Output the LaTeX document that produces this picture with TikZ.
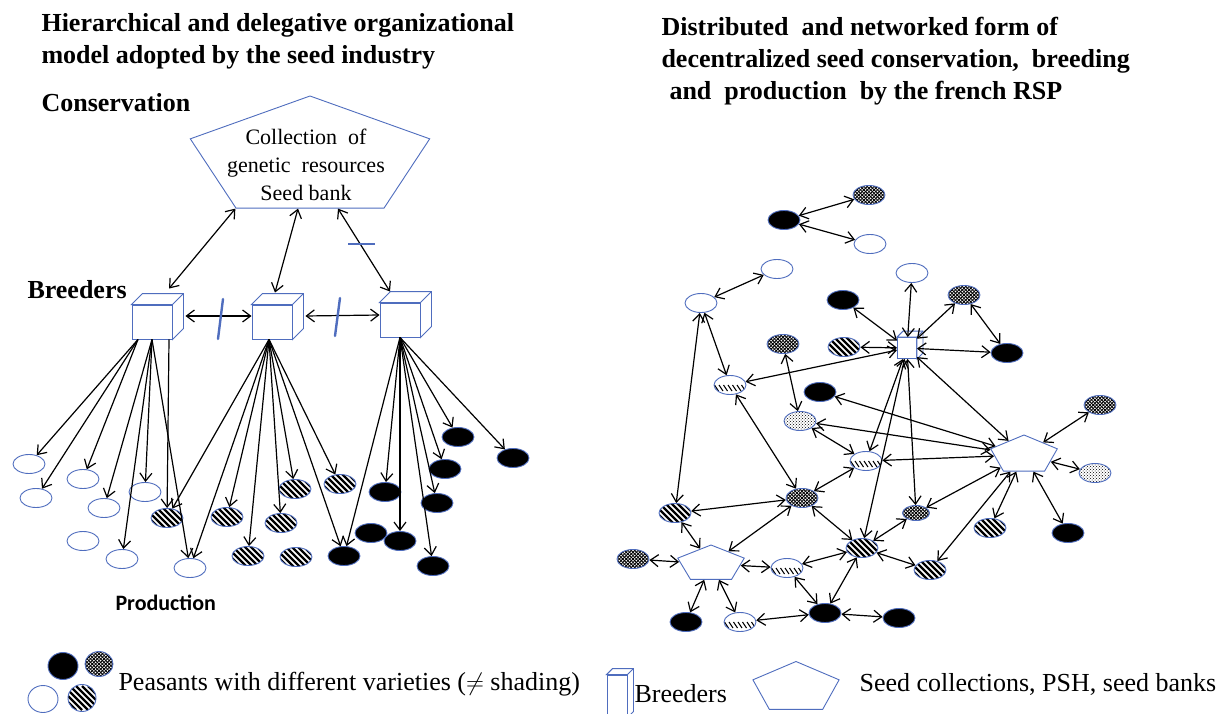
\documentclass[tikz,border=0pt]{standalone}
\usepackage{fontspec}
\setmainfont{Liberation Serif}
\newfontfamily\calfont{Carlito}
\usetikzlibrary{shapes.geometric,arrows.meta,patterns}
\definecolor{seedblue}{RGB}{79,109,190}

\newcommand\cubedepth[2]{%
  \draw[seedblue,line width=0.9pt,fill=white] (#1.north west) -- ++(#2,-#2) -- ([shift={(#2,-#2)}]#1.north east) -- ([shift={(#2,-#2)}]#1.south east) -- (#1.south east) -- (#1.north east) -- cycle;
  \draw[seedblue,line width=0.9pt] (#1.north east) -- ++(#2,-#2);}

\begin{document}
\begin{tikzpicture}[x=1pt,y=-1pt,>={Straight Barb[length=8pt,width=12pt]},
  peasant/.style={ellipse,draw=seedblue,line width=0.9pt,inner sep=0pt,minimum width=32pt,minimum height=19pt},
  emptyp/.style={peasant,fill=white},
  blackp/.style={peasant,fill=black},
  stripedp/.style={peasant,fill=white,path picture={\foreach \k in {-6,...,6} \draw[black,line width=2.3pt] ([shift={(\k*6,0)}]path picture bounding box.center) +(-12,-12) -- +(12,12);}},
  hatchp/.style={peasant,fill=white,path picture={\foreach \k in {-3,...,3} \draw[black,line width=1pt] ([shift={(\k*4.5,3)}]path picture bounding box.center) +(-2,-3) -- +(2,3);}},
  checkp/.style={peasant,fill=white,path picture={\foreach \k in {-10,...,10} \draw[black,line width=0.8pt] ([shift={(\k*3.4,0)}]path picture bounding box.center) +(-12,-12) -- +(12,12) +(12,-12) -- +(-12,12);}},
  dottedp/.style={peasant,preaction={fill=white},pattern=crosshatch dots},
  breeder/.style={draw=seedblue,fill=white,line width=0.9pt,inner sep=0pt,minimum width=40pt,minimum height=34pt},
  bankshape/.style={regular polygon,regular polygon sides=5,draw=seedblue,line width=0.9pt,fill=white,inner sep=0pt},
  link/.style={<->,line width=1.2pt},
  feed/.style={->,line width=1.2pt},
  bold title/.style={anchor=west,align=left,font=\bfseries\fontsize{26}{32}\selectfont},
  keytext/.style={anchor=west,font=\fontsize{26}{30}\selectfont}]

\useasboundingbox (0,0) rectangle (1220,714);

\node[bold title] (lefttitle) at (38,41) {Hierarchical and delegative organizational\\model adopted by the seed industry};
\node[bold title] (conservation) at (38,103) {Conservation};
\node[bold title] (breeders) at (24,290) {Breeders};
\node[anchor=west,font=\calfont\bfseries\fontsize{22}{26}\selectfont] (production) at (112,603) {Production};

\begin{scope}[shift={(310,158)},xscale=2.03]
  \node[bankshape,minimum size=124pt,transform shape] (bank) at (0,0) {};
\end{scope}
\node[align=center,font=\fontsize{22}{28}\selectfont] (banktext) at (306,165) {Collection\ \ of\\genetic\ \ resources\\Seed bank};

\node[breeder] (c1) at (152,322) {};
\node[breeder] (c2) at (272,322) {};
\node[breeder] (c3) at (400,320) {};
\cubedepth{c1}{11}
\cubedepth{c2}{11}
\cubedepth{c3}{11}

\draw[link] (bank.corner 3) -- ([shift={(17,-16)}]c1.north);
\draw[link] ([xshift=-12]bank.side 3) -- ([shift={(3,-12)}]c2.north);
\draw[link] ([xshift=28]bank.side 3) -- ([shift={(-10,-11)}]c3.north);
\draw[seedblue,line width=2.2pt] (348,244) -- (375,244);

\draw[link] ([shift={(13,-6)}]c1.east) -- ([yshift=6]c2.west);
\draw[link] ([shift={(13,-6)}]c2.east) -- ([yshift=5]c3.west);
\draw[seedblue,line width=2.4pt,line cap=round] (223,299) -- (218,339);
\draw[seedblue,line width=2.4pt,line cap=round] (340,298) -- (335,336);

\node[emptyp] (e1) at (29,464) {};
\node[emptyp] (e2) at (36,498) {};
\node[emptyp] (e3) at (83,479) {};
\node[emptyp] (e4) at (104,508) {};
\node[emptyp] (e5) at (145,492) {};
\node[emptyp] (e6) at (83,541) {};
\node[emptyp] (e7) at (122,559) {};
\node[emptyp] (e8) at (190,568) {};

\node[stripedp] (s1) at (167,518) {};
\node[stripedp] (s2) at (227,517) {};
\node[stripedp] (s3) at (281,523) {};
\node[stripedp] (s4) at (295,489) {};
\node[stripedp] (s5) at (340,484) {};
\node[stripedp] (s6) at (248,556) {};
\node[stripedp] (s7) at (296,557) {};

\node[blackp] (b1) at (458,437) {};
\node[blackp] (b2) at (513,458) {};
\node[blackp] (b3) at (445,469) {};
\node[blackp] (b4) at (385,492) {};
\node[blackp] (b5) at (437,503) {};
\node[blackp] (b6) at (371,533) {};
\node[blackp] (b7) at (400,541) {};
\node[blackp] (b8) at (344,556) {};
\node[blackp] (b9) at (433,566) {};

\foreach \t in {e1,e2,e3} \draw[feed] ([xshift=-14]c1.south) -- (\t);
\foreach \t in {e4,e5,e7,e8} \draw[feed] (c1.south) -- (\t);
\draw[feed] ([xshift=17]c1.south) -- (s1);
\foreach \t in {s1,e8,s2,s6,s3,s4,s5,b8} \draw[feed] ([xshift=-3]c2.south) -- (\t);
\foreach \t in {b8,b4,b7,b9,b5,b3,b1,b2} \draw[feed] (c3.south) -- (\t);

\node[bold title] (righttitle) at (658,61) {Distributed\ \ and networked form of\\decentralized seed conservation,\ \ breeding\\\hspace*{8pt}and\ \ production\ \ by the french RSP};

\node[breeder,minimum width=19pt,minimum height=21pt] (rb) at (907,348) {};
\cubedepth{rb}{6}
\begin{scope}[shift={(1024,455)},xscale=1.75]
  \node[bankshape,minimum size=40pt,transform shape] (p1) at (0,0) {};
\end{scope}
\begin{scope}[shift={(711,564)},xscale=1.84]
  \node[bankshape,minimum size=38pt,transform shape] (p2) at (0,0) {};
\end{scope}

\node[blackp] (r1) at (784,220) {};
\node[checkp] (r2) at (869,195) {};
\node[emptyp] (r3) at (870,244) {};
\node[emptyp] (r4) at (777,269) {};
\node[emptyp] (r5) at (701,303) {};
\node[emptyp] (r6) at (912,273) {};
\node[blackp] (r7) at (843,300) {};
\node[checkp] (r8) at (964,295) {};
\node[stripedp] (r9) at (844,347) {};
\node[checkp] (r10) at (783,344) {};
\node[blackp] (r11) at (1007,353) {};
\node[hatchp] (r12) at (730,385) {};
\node[blackp] (r13) at (820,392) {};
\node[checkp] (r14) at (1100,405) {};
\node[dottedp] (r15) at (800,421) {};
\node[hatchp] (r16) at (866,461) {};
\node[dottedp] (r17) at (1095,473) {};
\node[checkp] (r18) at (802,498) {};
\node[checkp,minimum width=27pt,minimum height=15pt] (r19) at (916,513) {};
\node[stripedp] (r20) at (675,513) {};
\node[stripedp] (r21) at (990,528) {};
\node[blackp] (r22) at (1068,533) {};
\node[stripedp] (r23) at (862,548) {};
\node[checkp] (r24) at (633,559) {};
\node[hatchp] (r25) at (787,568) {};
\node[stripedp] (r26) at (930,570) {};
\node[blackp] (r27) at (686,622) {};
\node[hatchp] (r28) at (740,622) {};
\node[blackp] (r29) at (825,613) {};
\node[blackp] (r30) at (899,618) {};

\foreach \a/\b in {r1/r2,r1/r3,r5/r4,r5/r12,r5/r20,rb/r6,rb/r7,rb/r8,r9/rb,rb/r11,r8/r11,rb/r12,r10/r15,
  r13/p1,r15/p1,r15/r16,r16/p1,rb/r16,rb/r23,rb/r19,rb/p1,r12/r18,r16/r18,r18/r20,r18/p2,r18/r23,
  r20/p2,r24/p2,p2/r27,p2/r28,p2/r25,r25/r23,r25/r29,r28/r29,r29/r30,r23/r29,r23/r19,r23/r26,
  r19/p1,r26/p1,r21/p1,r22/p1,r17/p1,r14/p1}
  \draw[link] (\a) -- (\b);

\node[blackp,minimum width=30pt,minimum height=27pt] (keyblack) at (63,666) {};
\node[checkp,minimum width=28pt,minimum height=25pt] (keycheck) at (99,664) {};
\node[emptyp,minimum width=30pt,minimum height=27pt] (keyempty) at (43,699) {};
\node[stripedp,minimum width=28pt,minimum height=27pt] (keystriped) at (82,698) {};
\node[keytext] (keypeasant) at (115,684) {Peasants with different varieties ($\neq$ shading)};

\node[breeder,minimum width=20pt,minimum height=42pt] (keybreeder) at (617,696) {};
\cubedepth{keybreeder}{6}
\node[keytext] (keybreedertext) at (631,694) {Breeders};

\begin{scope}[shift={(796,688)},xscale=1.71]
  \node[bankshape,minimum size=53pt,transform shape] (keybank) at (0,0) {};
\end{scope}
\node[keytext] (keybanktext) at (856,684) {Seed collections, PSH, seed banks};
\end{tikzpicture}
\end{document}
